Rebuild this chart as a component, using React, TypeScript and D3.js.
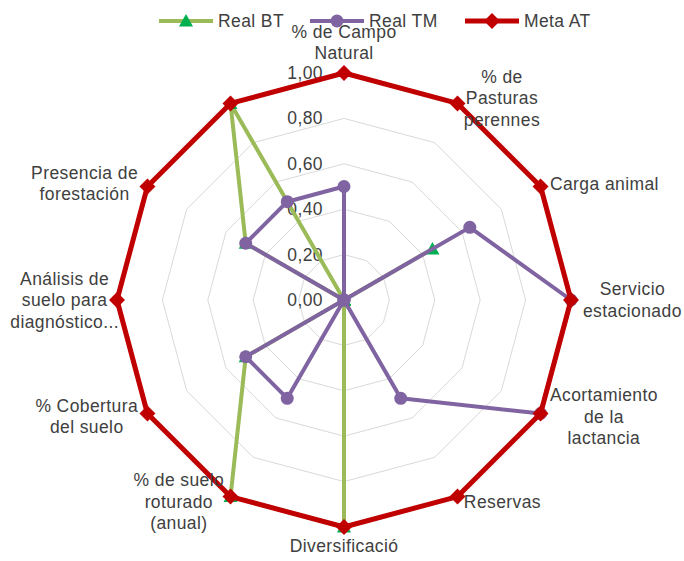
import React from "react";
import * as d3 from "d3";

const categories: string[][] = [
  ["% de Campo", "Natural"],
  ["% de", "Pasturas", "perennes"],
  ["Carga animal"],
  ["Servicio", "estacionado"],
  ["Acortamiento", "de la", "lactancia"],
  ["Reservas"],
  ["Diversificació"],
  ["% de suelo", "roturado", "(anual)"],
  ["% Cobertura", "del suelo"],
  ["Análisis de", "suelo para", "diagnóstico..."],
  ["Presencia de", "forestación"],
  [],
];

const realBT = [0, 0, 0.45, 0, 0, 0, 1, 1, 0.5, 0, 0.5, 1];
const realTM = [0.5, 0, 0.64, 1, 1, 0.5, 0, 0.5, 0.5, 0, 0.5, 0.5];
const metaAT = [1, 1, 1, 1, 1, 1, 1, 1, 1, 1, 1, 1];

const tickValues = [0, 0.2, 0.4, 0.6, 0.8, 1.0];
const tickLabels = ["0,00", "0,20", "0,40", "0,60", "0,80", "1,00"];

const seriesNames = ["Real BT", "Real TM", "Meta AT"];

// layout-only nudges for labels (dx)
const labelNudgeX = [0, 0, 0, 0, 0, 0, 0, 0, 0, 14, 0, 0];

const W = 684;
const H = 561;
const CX = 344;
const CY = 300;
const R = 227;
const FONT = "'Liberation Sans', Arial, sans-serif";
const FS = 17.5;
const LS = 0.4;
const TEXT = "#404040";

let ctx: CanvasRenderingContext2D | null = null;
function measure(t: string): number {
  if (!ctx) {
    const c = document.createElement("canvas");
    ctx = c.getContext("2d");
  }
  if (!ctx) return t.length * FS * 0.5;
  ctx.font = `${FS}px ${FONT}`;
  return ctx.measureText(t).width + LS * t.length;
}

export default function App() {
  const n = categories.length;
  const angle = d3
    .scaleLinear()
    .domain([0, n])
    .range([0, 2 * Math.PI]);
  const r = d3.scaleLinear().domain([0, 1]).range([0, R]);

  const pt = (i: number, v: number): [number, number] => {
    const a = angle(i);
    return [CX + r(v) * Math.sin(a), CY - r(v) * Math.cos(a)];
  };

  const lineGen = d3
    .line<[number, number]>()
    .x((d) => d[0])
    .y((d) => d[1])
    .curve(d3.curveLinearClosed);

  const ringPath = (v: number) =>
    lineGen(d3.range(n).map((i) => pt(i, v))) || "";

  const series = [
    { name: seriesNames[0], values: realBT, color: "#9BBB59", marker: "tri", mcolor: "#00B050", width: 4 },
    { name: seriesNames[1], values: realTM, color: "#8064A2", marker: "circle", mcolor: "#8064A2", width: 4 },
    { name: seriesNames[2], values: metaAT, color: "#C00000", marker: "diamond", mcolor: "#C00000", width: 5 },
  ];

  const markerShape = (type: string, x: number, y: number, color: string, key: string | number) => {
    if (type === "circle") return <circle key={key} cx={x} cy={y} r={6.5} fill={color} />;
    if (type === "diamond")
      return (
        <path
          key={key}
          d={`M${x},${y - 8}L${x + 8},${y}L${x},${y + 8}L${x - 8},${y}Z`}
          fill={color}
        />
      );
    return (
      <path
        key={key}
        d={`M${x},${y - 7}L${x + 7},${y + 5.5}L${x - 7},${y + 5.5}Z`}
        fill={color}
      />
    );
  };

  const lineH = 21.5;
  const labels = categories.map((lines, i) => {
    if (!lines.length) return null;
    const a = angle(i);
    const s = Math.sin(a);
    const c = Math.cos(a);
    const [px, py] = pt(i, 1);
    const h = lines.length * lineH;
    let cx: number, cy: number;
    if (Math.abs(s) < 0.1) {
      cx = px;
      cy = c > 0 ? py - 9 - h / 2 : py + 8 + h / 2;
    } else {
      const w = Math.max(...lines.map(measure));
      const pad = 6 + 6 * Math.pow(Math.abs(s), 4);
      cx = px + Math.sign(s) * (pad + w / 2);
      cy = py - c * 6;
    }
    cx += labelNudgeX[i];
    return (
      <text
        key={i}
        x={cx}
        textAnchor="middle"
        fontFamily={FONT}
        fontSize={FS}
        letterSpacing={LS}
        fill={TEXT}
      >
        {lines.map((l, k) => (
          <tspan key={k} x={cx} y={cy + (k - (lines.length - 1) / 2) * lineH} dominantBaseline="central">
            {l}
          </tspan>
        ))}
      </text>
    );
  });

  const legendItems = [
    { x0: 159, x1: 213, tx: 218 },
    { x0: 310, x1: 364, tx: 369 },
    { x0: 465, x1: 519, tx: 524 },
  ];
  const LY = 21;

  return (
    <svg
      width={W}
      height={H}
      style={{ position: "absolute", left: 0, top: 0, background: "#fff" }}
    >
      <rect width={W} height={H} fill="#fff" />
      {tickValues.slice(1).map((v) => (
        <path key={v} d={ringPath(v)} fill="none" stroke="#D9D9D9" strokeWidth={1} />
      ))}
      {tickValues.map((v, k) => (
        <text
          key={v}
          x={323}
          y={CY - r(v)}
          textAnchor="end"
          dominantBaseline="central"
          fontFamily={FONT}
          fontSize={FS}
          letterSpacing={LS}
          fill={TEXT}
        >
          {tickLabels[k]}
        </text>
      ))}
      {series.map((se, si) => (
        <g key={si}>
          <path
            d={lineGen(se.values.map((v, i) => pt(i, v))) || ""}
            fill="none"
            stroke={se.color}
            strokeWidth={se.width}
            strokeLinejoin="round"
          />
          {se.values.map((v, i) => {
            const [x, y] = pt(i, v);
            return markerShape(se.marker, x, y, se.mcolor, i);
          })}
        </g>
      ))}
      {labels}
      {series.map((se, si) => {
        const it = legendItems[si];
        return (
          <g key={"lg" + si}>
            <line x1={it.x0} x2={it.x1} y1={LY} y2={LY} stroke={se.color} strokeWidth={se.width} />
            {markerShape(se.marker, (it.x0 + it.x1) / 2, LY, se.mcolor, "m")}
            <text
              x={it.tx}
              y={LY}
              dominantBaseline="central"
              fontFamily={FONT}
              fontSize={FS}
              letterSpacing={LS}
              fill={TEXT}
            >
              {se.name}
            </text>
          </g>
        );
      })}
    </svg>
  );
}
